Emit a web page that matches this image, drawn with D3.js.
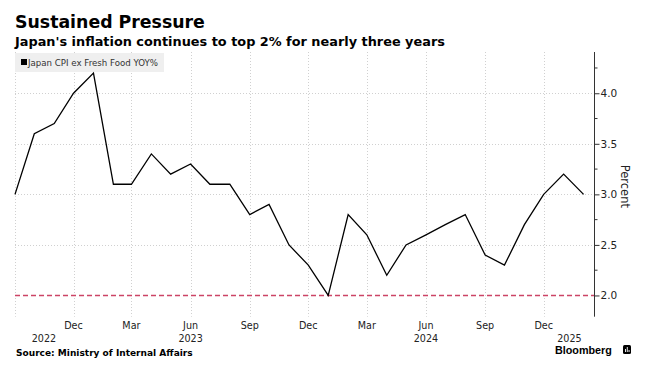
<!DOCTYPE html>
<html><head><meta charset="utf-8">
<script src="https://cdn.jsdelivr.net/npm/d3@7"></script>
<style>body{margin:0;background:#fff}svg{display:block}</style>
</head><body>
<svg id="c" width="645" height="370"></svg>
<script>
const months = ["2022-09","2022-10","2022-11","2022-12","2023-01","2023-02","2023-03","2023-04","2023-05","2023-06","2023-07","2023-08","2023-09","2023-10","2023-11","2023-12","2024-01","2024-02","2024-03","2024-04","2024-05","2024-06","2024-07","2024-08","2024-09","2024-10","2024-11","2024-12","2025-01","2025-02"];
const cpi = [3.0,3.6,3.7,4.0,4.2,3.1,3.1,3.4,3.2,3.3,3.1,3.1,2.8,2.9,2.5,2.3,2.0,2.8,2.6,2.2,2.5,2.6,2.7,2.8,2.4,2.3,2.7,3.0,3.2,3.0];
const xTickMonths = ["2022-09","2022-12","2023-03","2023-06","2023-09","2023-12","2024-03","2024-06","2024-09","2024-12"];
const xTickLabels = ["","Dec","Mar","Jun","Sep","Dec","Mar","Jun","Sep","Dec"];
const yearLabels = ["2022","2023","2024","2025"];
const yearLabelDates = ["2022-10-16","2023-06-01","2024-06-01","2025-01-10"];
const yTicks = [2.0,2.5,3.0,3.5,4.0];
const yMinorTicks = [2.25,2.75,3.25,3.75,4.25];
const target = 2.0;

const parseM = d3.timeParse("%Y-%m");
const parseD = d3.timeParse("%Y-%m-%d");
const data = months.map((m,i)=>({d:parseM(m), v:cpi[i]}));

const svg = d3.select("#c");
const L = 15, R = 594.5, T = 52, B = 316.7;
const x = d3.scaleTime().domain([parseD("2022-09-01"), parseD("2025-02-18")]).range([L, R]);
const y = d3.scaleLinear().domain([1.79, 4.408]).range([B, T]);

const font = "'DejaVu Sans', Verdana, sans-serif";

// gridlines
const grid = svg.append("g").attr("stroke","#d0d0d0").attr("stroke-width",1).attr("stroke-dasharray","1,2");
grid.selectAll("line.v").data(xTickMonths).join("line")
  .attr("x1",d=>Math.round(x(parseM(d)))+0.5).attr("x2",d=>Math.round(x(parseM(d)))+0.5)
  .attr("y1",T).attr("y2",B);
grid.selectAll("line.h").data(yTicks.filter(v=>v!==target)).join("line")
  .attr("x1",L).attr("x2",R).attr("y1",d=>Math.round(y(d))+0.5).attr("y2",d=>Math.round(y(d))+0.5);

// legend
const lg = svg.append("g");
lg.append("rect").attr("x",L).attr("y",53).attr("width",149).attr("height",19).attr("fill","#efefef");
lg.append("rect").attr("x",21).attr("y",59).attr("width",6).attr("height",6).attr("fill","#000");
const lt = lg.append("text").attr("x",28).attr("y",65.5).attr("font-family",font).attr("font-size",8.6).attr("fill","#333")
  .text("Japan CPI ex Fresh Food YOY%");

// target line
const ty = Math.floor(y(target)) + 0.5;
svg.append("line").attr("x1",L).attr("x2",R).attr("y1",ty).attr("y2",ty)
  .attr("stroke","#cc4466").attr("stroke-width",1.3).attr("stroke-dasharray","5,3");

// series line
svg.append("path").datum(data).attr("fill","none").attr("stroke","#000").attr("stroke-width",1.3)
  .attr("stroke-linejoin","miter")
  .attr("d", d3.line().x(d=>x(d.d)).y(d=>y(d.v)));

// right axis
const yAxis = d3.axisRight(y).tickValues(yTicks).tickFormat(d3.format(".1f")).tickSize(5).tickPadding(1);
const ya = svg.append("g").attr("transform",`translate(${R},0)`).call(yAxis);
ya.select(".domain").attr("d",`M0,${T}V${B}`).attr("stroke","#333");
ya.selectAll(".tick line").attr("stroke","#333");
ya.selectAll(".tick text").attr("font-family",font).attr("font-size",10.5).attr("fill","#222");
ya.selectAll(".minor").data(yMinorTicks).join("line").attr("class","minor")
  .attr("x1",0).attr("x2",3).attr("y1",d=>y(d)).attr("y2",d=>y(d)).attr("stroke","#333");

svg.append("text").attr("transform",`translate(621,${(T+B)/2+2}) rotate(90)`).attr("text-anchor","middle")
  .attr("font-family",font).attr("font-size",11.5).attr("fill","#222").text("Percent");

// x labels
svg.append("g").selectAll("text").data(xTickMonths.map((m,i)=>({m, l:xTickLabels[i]}))).join("text")
  .attr("x",d=>x(parseM(d.m))).attr("y",329).attr("text-anchor","middle")
  .attr("font-family",font).attr("font-size",9.6).attr("fill","#222").text(d=>d.l);
svg.append("g").selectAll("text").data(yearLabels.map((t,i)=>({t, d:parseD(yearLabelDates[i])}))).join("text")
  .attr("x",d=>x(d.d)).attr("y",342).attr("text-anchor","middle")
  .attr("font-family",font).attr("font-size",9.6).attr("fill","#222").text(d=>d.t);

// titles
function fit(sel, w){ const n=sel.node(); const cur=n.getComputedTextLength(); const fs=parseFloat(sel.attr("font-size")); sel.attr("font-size", fs*w/cur); }
fit(lt, 130);
const t1 = svg.append("text").attr("x",L).attr("y",28).attr("font-family",font).attr("font-weight","bold").attr("font-size",18).attr("fill","#000").text("Sustained Pressure");
fit(t1, 190);
const t2 = svg.append("text").attr("x",L).attr("y",46).attr("font-family",font).attr("font-weight","bold").attr("font-size",13).attr("fill","#000").text("Japan's inflation continues to top 2% for nearly three years");
fit(t2, 430);
const s = svg.append("text").attr("x",16).attr("y",356).attr("font-family",font).attr("font-weight","bold").attr("font-size",9).attr("fill","#000").text("Source: Ministry of Internal Affairs");
fit(s, 177);
const bb = svg.append("text").attr("x",555).attr("y",354).attr("font-family","'Liberation Sans', Arial, sans-serif").attr("font-weight","bold").attr("font-size",12.5).attr("fill","#000").text("Bloomberg");
fit(bb, 57);
// logo
const lo = svg.append("g").attr("transform","translate(623,345)");
lo.append("rect").attr("width",8).attr("height",9).attr("rx",1.5).attr("fill","#000");
[[2,4,3],[3.8,2,5],[5.6,5,2]].forEach(([bx,by,h])=>lo.append("rect").attr("x",bx).attr("y",by).attr("width",0.9).attr("height",h).attr("fill","#fff"));
</script>
</body></html>
